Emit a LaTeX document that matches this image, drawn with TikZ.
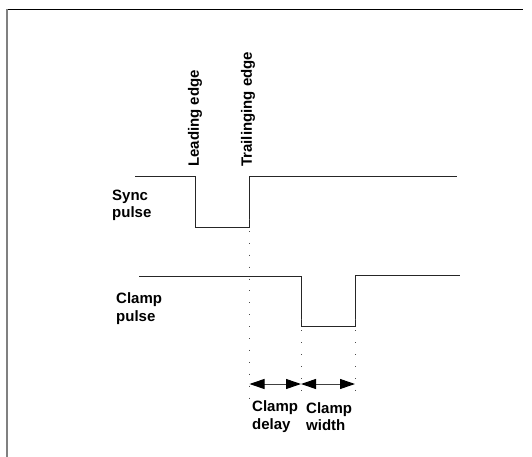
\documentclass[tikz,border=0pt]{standalone}
\usepackage{fontspec}
\setmainfont{Liberation Sans}
\usetikzlibrary{arrows.meta, positioning}

\begin{document}
\begin{tikzpicture}[x=1pt, y=-1pt,
            signal/.style={draw=black!85, line width=1pt},
            guide/.style={draw=black!70, line width=0.9pt,
            dash pattern=on 0.9pt off 11pt},
            tip/.tip={Triangle[length=15pt, width=10pt, color=black]},
            span/.style={tip-tip, draw=black!75, line width=1pt},
            lbl/.style={font=\fontsize{15}{17.5}\selectfont\bfseries,
            align=left, inner sep=0pt}]
          \useasboundingbox (0,0) rectangle (532,457);
          % frame
          \draw[black, line width=1.4pt] (6,9.5) -- (523,9.5);
          \draw[black!50, line width=2pt] (7,9) -- (7,457);
          % sync pulse
          \coordinate (s0) at (135,176.5);
          \coordinate (s1) at (195,176.5);
          \coordinate (s2) at (195,227);
          \coordinate (s3) at (249.5,227);
          \coordinate (s4) at (249.5,176);
          \coordinate (s5) at (457,176);
          \draw[signal] (s0) -- (s1) -- (s2) -- (s3) -- (s4) -- (s5);
          % clamp pulse
          \coordinate (c0) at (139,276);
          \coordinate (c1) at (301,276);
          \coordinate (c2) at (301,326.5);
          \coordinate (c3) at (355,326.5);
          \coordinate (c4) at (355,275);
          \coordinate (c5) at (460,275);
          \draw[signal] (c0) -- (c1) -- (c2) -- (c3) -- (c4) -- (c5);
          % guides
          \coordinate (g0) at (249.5,398);
          \coordinate (g1) at (301,398);
          \coordinate (g2) at (355,398);
          \draw[guide] ([yshift=8pt]s3) -- (g0);
          \draw[guide] ([yshift=8pt]c2) -- (g1);
          \draw[guide] ([yshift=8pt]c3) -- (g2);
          % spans
          \coordinate (a0) at (249.5,384);
          \coordinate (a1) at (301,384);
          \coordinate (a2) at (355,384);
          \draw[span] (a0) -- (a1);
          \draw[span] (a1) -- (a2);
          % labels
          \node[lbl, anchor=west] (sync) at (112,205.5) {Sync\\pulse};
          \node[lbl, anchor=west] (clamp) at (116,308.5) {Clamp\\pulse};
          \node[lbl, anchor=west] (delay) at (252,416.5) {Clamp\\delay};
          \node[lbl, anchor=west] (width) at (306,416.5) {Clamp\\width};
          \node[lbl, rotate=90, anchor=west] (lead) at (195,167) {Leading edge};
          \node[lbl, rotate=90, anchor=west] (trail) at (248,167) {Trailinging edge};
        \end{tikzpicture}
\end{document}
